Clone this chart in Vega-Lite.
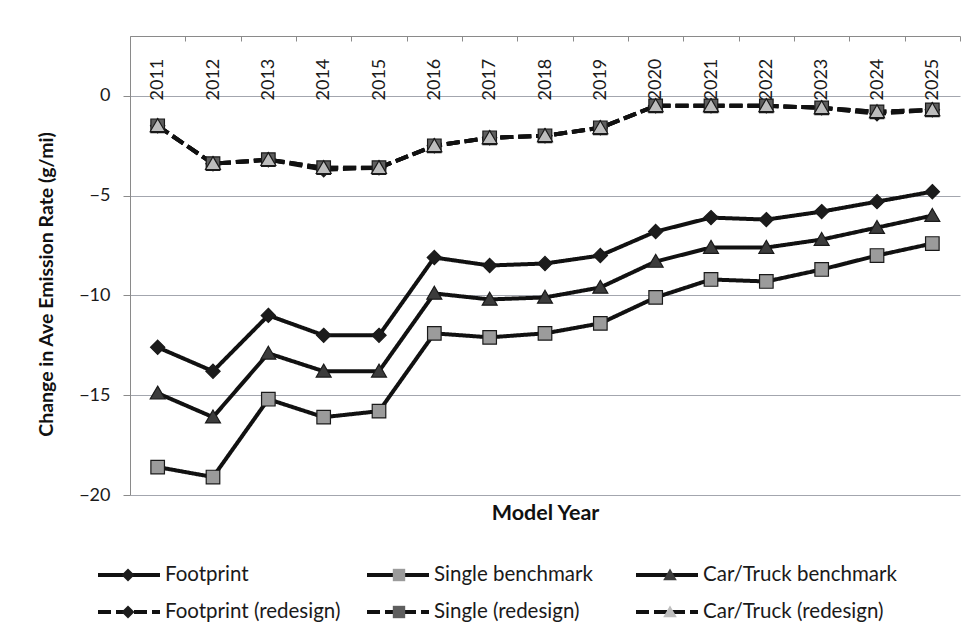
{
  "$schema": "https://vega.github.io/schema/vega-lite/v6.json",
  "width": 830,
  "height": 459,
  "autosize": {"type": "none"},
  "padding": {"left": 130, "top": 36, "right": 11, "bottom": 148},
  "background": "white",
  "config": {"view": {"stroke": null}, "font": "Lato"},
  "data": {"values": [
    {"year": "2011", "series": "Footprint", "value": -12.6},
    {"year": "2012", "series": "Footprint", "value": -13.8},
    {"year": "2013", "series": "Footprint", "value": -11.0},
    {"year": "2014", "series": "Footprint", "value": -12.0},
    {"year": "2015", "series": "Footprint", "value": -12.0},
    {"year": "2016", "series": "Footprint", "value": -8.1},
    {"year": "2017", "series": "Footprint", "value": -8.5},
    {"year": "2018", "series": "Footprint", "value": -8.4},
    {"year": "2019", "series": "Footprint", "value": -8.0},
    {"year": "2020", "series": "Footprint", "value": -6.8},
    {"year": "2021", "series": "Footprint", "value": -6.1},
    {"year": "2022", "series": "Footprint", "value": -6.2},
    {"year": "2023", "series": "Footprint", "value": -5.8},
    {"year": "2024", "series": "Footprint", "value": -5.3},
    {"year": "2025", "series": "Footprint", "value": -4.8},
    {"year": "2011", "series": "Single benchmark", "value": -18.6},
    {"year": "2012", "series": "Single benchmark", "value": -19.1},
    {"year": "2013", "series": "Single benchmark", "value": -15.2},
    {"year": "2014", "series": "Single benchmark", "value": -16.1},
    {"year": "2015", "series": "Single benchmark", "value": -15.8},
    {"year": "2016", "series": "Single benchmark", "value": -11.9},
    {"year": "2017", "series": "Single benchmark", "value": -12.1},
    {"year": "2018", "series": "Single benchmark", "value": -11.9},
    {"year": "2019", "series": "Single benchmark", "value": -11.4},
    {"year": "2020", "series": "Single benchmark", "value": -10.1},
    {"year": "2021", "series": "Single benchmark", "value": -9.2},
    {"year": "2022", "series": "Single benchmark", "value": -9.3},
    {"year": "2023", "series": "Single benchmark", "value": -8.7},
    {"year": "2024", "series": "Single benchmark", "value": -8.0},
    {"year": "2025", "series": "Single benchmark", "value": -7.4},
    {"year": "2011", "series": "Car/Truck benchmark", "value": -14.9},
    {"year": "2012", "series": "Car/Truck benchmark", "value": -16.1},
    {"year": "2013", "series": "Car/Truck benchmark", "value": -12.9},
    {"year": "2014", "series": "Car/Truck benchmark", "value": -13.8},
    {"year": "2015", "series": "Car/Truck benchmark", "value": -13.8},
    {"year": "2016", "series": "Car/Truck benchmark", "value": -9.9},
    {"year": "2017", "series": "Car/Truck benchmark", "value": -10.2},
    {"year": "2018", "series": "Car/Truck benchmark", "value": -10.1},
    {"year": "2019", "series": "Car/Truck benchmark", "value": -9.6},
    {"year": "2020", "series": "Car/Truck benchmark", "value": -8.3},
    {"year": "2021", "series": "Car/Truck benchmark", "value": -7.6},
    {"year": "2022", "series": "Car/Truck benchmark", "value": -7.6},
    {"year": "2023", "series": "Car/Truck benchmark", "value": -7.2},
    {"year": "2024", "series": "Car/Truck benchmark", "value": -6.6},
    {"year": "2025", "series": "Car/Truck benchmark", "value": -6.0},
    {"year": "2011", "series": "Footprint (redesign)", "value": -1.5},
    {"year": "2012", "series": "Footprint (redesign)", "value": -3.4},
    {"year": "2013", "series": "Footprint (redesign)", "value": -3.2},
    {"year": "2014", "series": "Footprint (redesign)", "value": -3.7},
    {"year": "2015", "series": "Footprint (redesign)", "value": -3.6},
    {"year": "2016", "series": "Footprint (redesign)", "value": -2.5},
    {"year": "2017", "series": "Footprint (redesign)", "value": -2.1},
    {"year": "2018", "series": "Footprint (redesign)", "value": -2.0},
    {"year": "2019", "series": "Footprint (redesign)", "value": -1.6},
    {"year": "2020", "series": "Footprint (redesign)", "value": -0.5},
    {"year": "2021", "series": "Footprint (redesign)", "value": -0.5},
    {"year": "2022", "series": "Footprint (redesign)", "value": -0.5},
    {"year": "2023", "series": "Footprint (redesign)", "value": -0.6},
    {"year": "2024", "series": "Footprint (redesign)", "value": -0.9},
    {"year": "2025", "series": "Footprint (redesign)", "value": -0.7},
    {"year": "2011", "series": "Single (redesign)", "value": -1.5},
    {"year": "2012", "series": "Single (redesign)", "value": -3.4},
    {"year": "2013", "series": "Single (redesign)", "value": -3.2},
    {"year": "2014", "series": "Single (redesign)", "value": -3.6},
    {"year": "2015", "series": "Single (redesign)", "value": -3.6},
    {"year": "2016", "series": "Single (redesign)", "value": -2.5},
    {"year": "2017", "series": "Single (redesign)", "value": -2.1},
    {"year": "2018", "series": "Single (redesign)", "value": -2.0},
    {"year": "2019", "series": "Single (redesign)", "value": -1.6},
    {"year": "2020", "series": "Single (redesign)", "value": -0.5},
    {"year": "2021", "series": "Single (redesign)", "value": -0.5},
    {"year": "2022", "series": "Single (redesign)", "value": -0.5},
    {"year": "2023", "series": "Single (redesign)", "value": -0.6},
    {"year": "2024", "series": "Single (redesign)", "value": -0.8},
    {"year": "2025", "series": "Single (redesign)", "value": -0.7},
    {"year": "2011", "series": "Car/Truck (redesign)", "value": -1.5},
    {"year": "2012", "series": "Car/Truck (redesign)", "value": -3.4},
    {"year": "2013", "series": "Car/Truck (redesign)", "value": -3.2},
    {"year": "2014", "series": "Car/Truck (redesign)", "value": -3.6},
    {"year": "2015", "series": "Car/Truck (redesign)", "value": -3.6},
    {"year": "2016", "series": "Car/Truck (redesign)", "value": -2.5},
    {"year": "2017", "series": "Car/Truck (redesign)", "value": -2.1},
    {"year": "2018", "series": "Car/Truck (redesign)", "value": -2.0},
    {"year": "2019", "series": "Car/Truck (redesign)", "value": -1.6},
    {"year": "2020", "series": "Car/Truck (redesign)", "value": -0.5},
    {"year": "2021", "series": "Car/Truck (redesign)", "value": -0.5},
    {"year": "2022", "series": "Car/Truck (redesign)", "value": -0.5},
    {"year": "2023", "series": "Car/Truck (redesign)", "value": -0.6},
    {"year": "2024", "series": "Car/Truck (redesign)", "value": -0.8},
    {"year": "2025", "series": "Car/Truck (redesign)", "value": -0.7}
  ]},
  "encoding": {
    "x": {
      "field": "year", "type": "ordinal",
      "scale": {"type": "band", "paddingInner": 0, "paddingOuter": 0},
      "axis": {
        "orient": "top", "labelAngle": -90, "labelAlign": "left", "labelBaseline": "middle",
        "labelPadding": -59, "tickSize": -5, "tickBand": "extent", "tickColor": "#8a8a8a", "domainColor": "#8a8a8a",
        "labelFont": "Lato", "labelFontSize": 18, "labelColor": "#1a1a1a", "labelOverlap": false, "labelFlush": false, "grid": false,
        "title": "Model Year", "titleFont": "Lato", "titleFontSize": 21.5, "titleFontWeight": "bold", "titleColor": "#111",
        "titleX": 415, "titleY": 477, "titleAngle": 0, "titleAlign": "center", "titleBaseline": "middle"
      }
    },
    "y": {
      "field": "value", "type": "quantitative",
      "scale": {"domain": [-20, 3], "nice": false, "zero": false},
      "axis": {
        "values": [-20, -15, -10, -5, 0], "tickSize": 7, "tickColor": "#8a8a8a", "domainColor": "#8a8a8a",
        "gridColor": "#a3a6ae", "labelPadding": 13, "labelFont": "Lato", "labelFontSize": 18, "labelColor": "#1a1a1a",
        "title": "Change in Ave Emission Rate (g/mi)", "titleFont": "Lato", "titleFontSize": 19.5, "titleFontWeight": "bold",
        "titleColor": "#111", "titleX": -84, "titleY": 248, "titleAngle": 270, "titleAlign": "center", "titleBaseline": "middle"
      }
    }
  },
  "layer": [
    {
      "mark": {"type": "line", "color": "#111", "strokeJoin": "round"},
      "encoding": {
        "strokeDash": {
          "field": "series", "type": "nominal",
          "sort": ["Footprint", "Single benchmark", "Car/Truck benchmark", "Footprint (redesign)", "Single (redesign)", "Car/Truck (redesign)"],
          "scale": {"range": [[1, 0], [1, 0], [1, 0], [13, 5], [13, 5], [13, 5]]},
          "legend": {"orient": "none", "legendX": -34, "legendY": 527, "direction": "horizontal", "columns": 3, "gridAlign": "all", "columnPadding": 6, "rowPadding": 13, "clipHeight": 24,
                     "symbolSize": 3844, "symbolStrokeWidth": 4, "symbolStrokeColor": "#111", "labelFont": "Lato", "labelFontSize": 20.5, "labelColor": "#1a1a1a",
                     "labelOffset": 3, "labelLimit": 0, "title": null}
        },
        "strokeWidth": {
          "field": "series", "type": "ordinal",
          "scale": {"domain": ["Footprint", "Single benchmark", "Car/Truck benchmark", "Footprint (redesign)", "Single (redesign)", "Car/Truck (redesign)"],
                    "range": [4, 4, 4, 5, 5, 5]},
          "legend": null
        }
      }
    },
    {
      "mark": {"type": "point", "filled": true, "opacity": 1, "size": 4600, "stroke": "#1a1a1a", "strokeWidth": 1.2},
      "encoding": {
        "shape": {
          "field": "series", "type": "nominal",
          "scale": {"domain": ["Car/Truck (redesign)", "Single (redesign)", "Footprint (redesign)", "Car/Truck benchmark", "Single benchmark", "Footprint"],
                    "range": ["M0,-0.21L0.22,0.17L-0.22,0.17Z", "M-0.2,-0.2L0.2,-0.2L0.2,0.2L-0.2,0.2Z", "M0,-0.21L0.21,0L0,0.21L-0.21,0Z",
                              "M0,-0.21L0.22,0.17L-0.22,0.17Z", "M-0.2,-0.2L0.2,-0.2L0.2,0.2L-0.2,0.2Z", "M0,-0.21L0.21,0L0,0.21L-0.21,0Z"]},
          "legend": {"orient": "none", "legendX": -34, "legendY": 527, "direction": "horizontal", "columns": 3, "gridAlign": "all", "columnPadding": 204, "rowPadding": 13, "clipHeight": 24,
                     "values": ["Footprint", "Single benchmark", "Car/Truck benchmark", "Footprint (redesign)", "Single (redesign)", "Car/Truck (redesign)"],
                     "symbolSize": 3844, "symbolStrokeWidth": 1.2, "symbolStrokeColor": "#1a1a1a", "labelFont": "Lato", "labelFontSize": 20.5,
                     "labelExpr": "''", "labelOffset": 3, "labelLimit": 0, "title": null, "symbolOpacity": 1}
        },
        "fill": {
          "field": "series", "type": "nominal",
          "scale": {"domain": ["Car/Truck (redesign)", "Single (redesign)", "Footprint (redesign)", "Car/Truck benchmark", "Single benchmark", "Footprint"],
                    "range": ["#bdbdbd", "#5e5e5e", "#1c1c1c", "#3c3c3c", "#9b9b9b", "#1c1c1c"]},
          "legend": {"orient": "none", "legendX": -34, "legendY": 527, "direction": "horizontal", "columns": 3, "gridAlign": "all", "columnPadding": 204, "rowPadding": 13, "clipHeight": 24,
                     "values": ["Footprint", "Single benchmark", "Car/Truck benchmark", "Footprint (redesign)", "Single (redesign)", "Car/Truck (redesign)"],
                     "symbolSize": 3844, "symbolStrokeWidth": 1.2, "symbolStrokeColor": "#1a1a1a", "labelFont": "Lato", "labelFontSize": 20.5,
                     "labelExpr": "''", "labelOffset": 3, "labelLimit": 0, "title": null, "symbolOpacity": 1}
        }
      }
    }
  ]
}
